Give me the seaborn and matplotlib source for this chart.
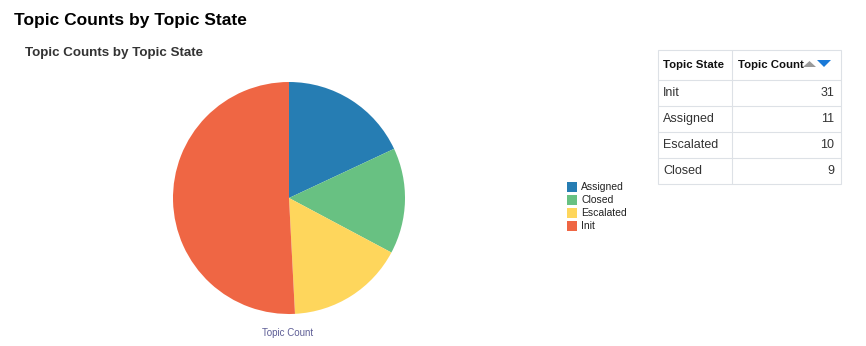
import matplotlib
matplotlib.use("Agg")
import matplotlib.pyplot as plt
import seaborn as sns
from matplotlib.patches import Rectangle, Polygon

# ---- data ----
pie_states = ["Assigned", "Closed", "Escalated", "Init"]
pie_counts = [11, 9, 10, 31]
pie_colors = ["#267db3", "#68c182", "#fed65c", "#ef6644"]

table_states = ["Init", "Assigned", "Escalated", "Closed"]
table_counts = [31, 11, 10, 9]
table_headers = ["Topic State", "Topic Count"]

title = "Topic Counts by Topic State"
subtitle = "Topic Counts by Topic State"
axis_label = "Topic Count"

sns.set_theme(style="white")
plt.rcParams["font.family"] = ["Liberation Sans", "DejaVu Sans"]

W, H = 866, 346
fig = plt.figure(figsize=(W / 100, H / 100), dpi=100)
fig.patch.set_facecolor("white")

# background axes in pixel coordinates
bg = fig.add_axes([0, 0, 1, 1])
bg.set_xlim(0, W)
bg.set_ylim(H, 0)
bg.axis("off")

bg.text(14, 21, title, fontsize=12.5, fontweight="bold", color="#000000", va="center", ha="left")
bg.text(25, 53, subtitle, fontsize=9.6, fontweight="bold", color="#333333", va="center", ha="left")
bg.text(288, 333, axis_label, fontsize=7, color="#5e5e96", va="center", ha="center")

# pie
cx, cy, r = 289, 198, 116
pax = fig.add_axes([(cx - r) / W, (H - cy - r) / H, 2 * r / W, 2 * r / H])
pax.pie(pie_counts, colors=pie_colors, startangle=90, counterclock=False,
        radius=1, wedgeprops=dict(linewidth=0))
pax.set_xlim(-1, 1)
pax.set_ylim(-1, 1)
pax.set_aspect("auto")
pax.axis("off")

# legend
lx, ly0, step = 567, 187, 13
for i, (s, c) in enumerate(zip(pie_states, pie_colors)):
    y = ly0 + i * step
    bg.add_patch(Rectangle((lx, y - 5), 10, 10, facecolor=c, edgecolor="none"))
    bg.text(lx + 14, y, s, fontsize=7.5, color="#222222", va="center", ha="left")

# table
tx0, tx1, tx2 = 658, 732, 841
row_edges = [50, 80, 106, 132, 158, 184]
line_c = "#dde1e6"
bg.add_patch(Rectangle((tx0, row_edges[0]), tx2 - tx0, row_edges[-1] - row_edges[0],
                       facecolor="none", edgecolor=line_c, linewidth=0.8))
for y in row_edges[1:-1]:
    bg.plot([tx0, tx2], [y, y], color=line_c, lw=0.8)
bg.plot([tx1, tx1], [row_edges[0], row_edges[-1]], color=line_c, lw=0.8)

hy = (row_edges[0] + row_edges[1]) / 2
bg.text(tx0 + 5, hy, table_headers[0], fontsize=8.2, fontweight="bold", color="#111111", va="center", ha="left")
bg.text(tx1 + 6, hy, table_headers[1], fontsize=8.2, fontweight="bold", color="#111111", va="center", ha="left")
# sort arrows
bg.add_patch(Polygon([[803, 67], [816, 67], [809.5, 61]], closed=True, facecolor="#9a9a9a", edgecolor="none"))
bg.add_patch(Polygon([[817, 60], [831, 60], [824, 67]], closed=True, facecolor="#1a7ad8", edgecolor="none"))

for i, (s, v) in enumerate(zip(table_states, table_counts)):
    y = (row_edges[i + 1] + row_edges[i + 2]) / 2
    bg.text(tx0 + 5, y, s, fontsize=9, color="#333333", va="center", ha="left")
    bg.text(tx2 - 7, y, str(v), fontsize=9, color="#333333", va="center", ha="right")

fig.savefig("out.png", dpi=100, facecolor="white")
